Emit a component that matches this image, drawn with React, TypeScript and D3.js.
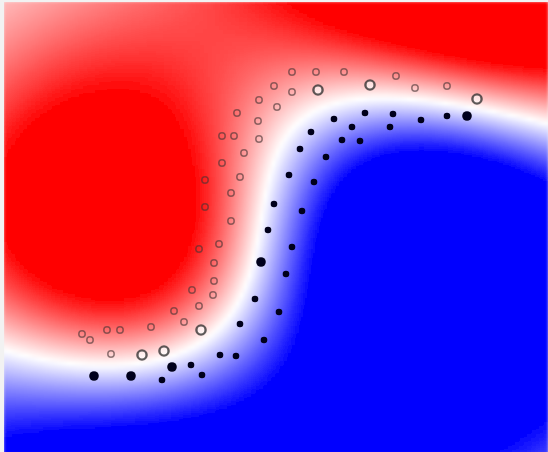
import React, { useMemo } from "react";
import * as d3 from "d3";

// Class A (open circles, red side) – data coordinates
const classAX = [7.2, 7.8, 8.5, 9.8, 6.75, 7.2, 7.85, 9.15, 10.275, 11.075, 11.825, 6.375, 6.825, 5.825, 6.35, 5.45, 5.75, 6.375, 6.0, 5.45, 5.9, 5.025, 5.675, 5.025, 5.675, 4.875, 5.375, 5.25, 5.25, 4.7, 5.225, 4.25, 4.875, 4.5, 4.925, 3.675, 2.575, 2.9, 1.95, 2.15, 2.675, 3.45, 4.0];
const classAY = [9.5, 9.5, 9.5, 9.4, 9.15, 9.0, 9.05, 9.175, 9.1, 9.15, 8.825, 8.8, 8.625, 8.475, 8.275, 7.9, 7.9, 7.825, 7.475, 7.225, 6.875, 6.8, 6.475, 6.125, 5.775, 5.075, 5.2, 4.725, 4.275, 4.05, 3.925, 3.525, 3.65, 3.25, 3.05, 3.125, 3.05, 3.05, 2.95, 2.8, 2.45, 2.425, 2.525];
const classASupport = [0, 0, 0, 0, 0, 0, 1, 1, 0, 0, 1, 0, 0, 0, 0, 0, 0, 0, 0, 0, 0, 0, 0, 0, 0, 0, 0, 0, 0, 0, 0, 0, 0, 0, 1, 0, 0, 0, 0, 0, 0, 1, 1];

// Class B (filled dots, blue side)
const classBX = [8.25, 9.025, 9.725, 10.425, 11.075, 11.575, 7.675, 8.7, 9.65, 8.45, 8.9, 7.4, 8.05, 7.125, 7.75, 6.75, 7.45, 6.6, 7.2, 6.425, 7.05, 6.275, 6.875, 5.9, 6.5, 5.4, 5.8, 4.2, 4.675, 4.95, 3.95, 3.175, 2.25];
const classBY = [8.325, 8.475, 8.45, 8.3, 8.4, 8.4, 8.0, 8.125, 8.125, 7.8, 7.775, 7.575, 7.375, 6.925, 6.75, 6.2, 6.025, 5.55, 5.125, 4.75, 4.45, 3.825, 3.5, 3.2, 2.8, 2.425, 2.4, 2.125, 2.175, 1.925, 1.8, 1.9, 1.9];
const classBSupport = [0, 0, 0, 0, 0, 1, 0, 0, 0, 0, 0, 0, 0, 0, 0, 0, 0, 0, 0, 1, 0, 0, 0, 0, 0, 0, 0, 1, 0, 0, 0, 1, 1];

const X_DOMAIN = [0, 13.6];
const Y_DOMAIN = [0, 11.25];

const W = 548;
const H = 452;
const SIGMA = 4.0; // RBF kernel width (data units)
const C_REG = 1000;
const SAT = 3.6; // decision value mapped to full colour
const CELL = 4;

// deterministic SMO (maximal violating pair) for an RBF SVM
function trainSVM(px: number[], py: number[], lab: number[]) {
  const n = lab.length;
  const s2 = 2 * SIGMA * SIGMA;
  const K: number[][] = [];
  for (let i = 0; i < n; i++) {
    K.push([]);
    for (let j = 0; j < n; j++) K[i].push(Math.exp(-((px[i] - px[j]) ** 2 + (py[i] - py[j]) ** 2) / s2));
  }
  const a = new Array(n).fill(0);
  const F = lab.map((v) => -v);
  for (let it = 0; it < 300000; it++) {
    let i = -1, j = -1, fi = Infinity, fj = -Infinity;
    for (let t = 0; t < n; t++) {
      const up = (lab[t] === 1 && a[t] < C_REG) || (lab[t] === -1 && a[t] > 0);
      const low = (lab[t] === -1 && a[t] < C_REG) || (lab[t] === 1 && a[t] > 0);
      if (up && F[t] < fi) { fi = F[t]; i = t; }
      if (low && F[t] > fj) { fj = F[t]; j = t; }
    }
    if (i < 0 || j < 0 || fj - fi < 1e-4) break;
    const eta = Math.max(1e-12, K[i][i] + K[j][j] - 2 * K[i][j]);
    let L: number, Hh: number;
    if (lab[i] !== lab[j]) { L = Math.max(0, a[j] - a[i]); Hh = Math.min(C_REG, C_REG + a[j] - a[i]); }
    else { L = Math.max(0, a[i] + a[j] - C_REG); Hh = Math.min(C_REG, a[i] + a[j]); }
    let ajn = a[j] + (lab[j] * (F[i] - F[j])) / eta;
    ajn = Math.max(L, Math.min(Hh, ajn));
    const ain = a[i] + lab[i] * lab[j] * (a[j] - ajn);
    const dai = ain - a[i], daj = ajn - a[j];
    if (Math.abs(dai) + Math.abs(daj) < 1e-14) break;
    a[i] = ain; a[j] = ajn;
    for (let t = 0; t < n; t++) F[t] += lab[i] * dai * K[t][i] + lab[j] * daj * K[t][j];
  }
  let bs = 0, nb = 0;
  for (let t = 0; t < n; t++) if (a[t] > 1e-8 && a[t] < C_REG - 1e-8) { bs += -F[t]; nb++; }
  let b = nb ? bs / nb : 0;
  if (!nb) {
    let fi = Infinity, fj = -Infinity;
    for (let t = 0; t < n; t++) {
      const up = (lab[t] === 1 && a[t] < C_REG) || (lab[t] === -1 && a[t] > 0);
      const low = (lab[t] === -1 && a[t] < C_REG) || (lab[t] === 1 && a[t] > 0);
      if (up) fi = Math.min(fi, F[t]);
      if (low) fj = Math.max(fj, F[t]);
    }
    b = -(fi + fj) / 2;
  }
  return (qx: number, qy: number) => {
    let s = b;
    for (let t = 0; t < n; t++) if (a[t] > 0) s += a[t] * lab[t] * Math.exp(-((qx - px[t]) ** 2 + (qy - py[t]) ** 2) / s2);
    return s;
  };
}

export default function App() {
  const x = d3.scaleLinear().domain(X_DOMAIN).range([4, 548]);
  const y = d3.scaleLinear().domain(Y_DOMAIN).range([452, 2]);

  const cells = useMemo(() => {
    const px = [...classAX, ...classBX];
    const py = [...classAY, ...classBY];
    const lab = [...classAX.map(() => 1), ...classBX.map(() => -1)];
    const f = trainSVM(px, py, lab);
    const red = d3.interpolateRgb("#ffffff", "#ff0000");
    const blue = d3.interpolateRgb("#ffffff", "#0000ff");
    const out: { x: number; y: number; fill: string }[] = [];
    for (let gy = 2; gy < H; gy += CELL) {
      for (let gx = 4; gx < W; gx += CELL) {
        const t = Math.max(-1, Math.min(1, f(x.invert(gx + CELL / 2), y.invert(gy + CELL / 2)) / SAT));
        out.push({ x: gx, y: gy, fill: t >= 0 ? red(t) : blue(-t) });
      }
    }
    return out;
  }, []);

  return (
    <svg
      width={W}
      height={H}
      style={{ position: "absolute", left: 0, top: 0, background: "#f2f2f2" }}
    >
      <defs>
        <clipPath id="plot">
          <rect x={4} y={2} width={544} height={450} />
        </clipPath>
        <filter id="soft" x="-20%" y="-20%" width="140%" height="140%">
          <feGaussianBlur stdDeviation={1.5} />
        </filter>
        <filter id="ptblur" x="-50%" y="-50%" width="200%" height="200%">
          <feGaussianBlur stdDeviation={0.6} />
        </filter>
      </defs>
      <g clipPath="url(#plot)">
        <g filter="url(#soft)">
          {cells.map((c, i) => (
            <rect key={i} x={c.x - 0.5} y={c.y - 0.5} width={CELL + 1} height={CELL + 1} fill={c.fill} />
          ))}
        </g>
      </g>
      <g filter="url(#ptblur)">
        {classAX.map((v, i) =>
          classASupport[i] ? (
            <circle key={"a" + i} cx={x(v)} cy={y(classAY[i])} r={4.6} fill="rgba(255,255,255,0.55)" stroke="rgba(40,40,40,0.75)" strokeWidth={2.4} />
          ) : (
            <circle key={"a" + i} cx={x(v)} cy={y(classAY[i])} r={3.2} fill="none" stroke="rgba(70,50,50,0.6)" strokeWidth={1.5} />
          )
        )}
        {classBX.map((v, i) => (
          <circle key={"b" + i} cx={x(v)} cy={y(classBY[i])} r={classBSupport[i] ? 4.8 : 3.3} fill="#06061a" />
        ))}
      </g>
    </svg>
  );
}
